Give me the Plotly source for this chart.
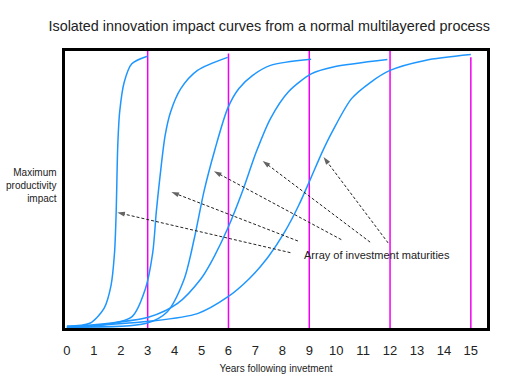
import plotly.graph_objects as go

# ---- data (years, % of maximum productivity impact) ----
curve1_x = [0, 0.85, 1.38, 1.64, 1.77, 1.83, 1.89, 1.96, 2.13, 2.41, 2.99]
curve1_y = [0.7, 1.7, 7.1, 15.4, 27.3, 41.9, 66.0, 78.0, 88.8, 95.4, 98.1]

curve2_x = [0, 1.0, 2.41, 2.92, 3.19, 3.32, 3.45, 3.65, 3.85, 4.23, 4.85, 5.97]
curve2_y = [0.4, 0.6, 4.0, 14.3, 27.4, 41.9, 54.0, 69.6, 78.0, 86.4, 93.0, 97.7]

curve3_x = [0, 2.92, 3.72, 4.36, 4.73, 5.10, 5.49, 5.97, 6.38, 6.90, 7.56, 9.07]
curve3_y = [0.3, 1.6, 5.8, 17.8, 32.3, 49.7, 64.2, 79.3, 86.4, 91.2, 94.8, 97.0]

curve4_x = [0, 3.05, 4.11, 4.98, 5.36, 5.97, 6.51, 7.03, 7.56, 8.22, 9.09, 9.89, 11.9]
curve4_y = [0.3, 4.0, 8.9, 17.8, 23.8, 35.9, 49.1, 63.5, 75.6, 85.2, 91.8, 94.2, 96.9]

curve5_x = [0, 3.05, 4.85, 5.97, 6.77, 7.43, 8.09, 8.61, 9.05, 9.48, 9.85, 10.57, 11.29, 12.0, 13.3, 15.0]
curve5_y = [0.25, 2.4, 5.2, 11.2, 17.8, 25.1, 34.7, 44.3, 53.9, 63.5, 70.8, 82.8, 88.8, 93.0, 96.6, 98.7]

maturity_years = [3, 6, 9, 12, 15]
maturity_tops = [100, 99.1, 100, 100, 97.7]

arrow_tail_x = [8.30, 8.58, 10.19, 11.26, 11.93]
arrow_tail_y = [27.2, 31.4, 31.9, 31.0, 30.7]
arrow_head_x = [1.87, 3.88, 5.46, 7.27, 9.53]
arrow_head_y = [41.7, 49.1, 56.6, 60.3, 61.7]

tick_years = list(range(0, 16))
tick_labels = [str(v) for v in tick_years]

label_pos = (8.73, 26.2)

title_text = "Isolated innovation impact curves from a normal multilayered process"
x_title = "Years following invetment"
y_title = "Maximum<br>productivity<br>impact"
array_text = "Array of investment maturities"

# ---- styles ----
FONT = "Liberation Sans, Arial, sans-serif"
BLUE = "#1E96FF"
MAGENTA = "#F000F0"

fig = go.Figure()

# maturity lines
for xv, top in zip(maturity_years, maturity_tops):
    fig.add_trace(go.Scatter(x=[xv, xv], y=[0, top], mode="lines",
                             line=dict(color=MAGENTA, width=1.5),
                             hoverinfo="skip", showlegend=False))

# impact curves
for cx, cy in [(curve1_x, curve1_y), (curve2_x, curve2_y), (curve3_x, curve3_y),
               (curve4_x, curve4_y), (curve5_x, curve5_y)]:
    fig.add_trace(go.Scatter(x=cx, y=cy, mode="lines",
                             line=dict(color=BLUE, width=1.5, shape="spline", smoothing=0.8),
                             showlegend=False))

# dashed arrows
for tx, ty, hx, hy in zip(arrow_tail_x, arrow_tail_y, arrow_head_x, arrow_head_y):
    fig.add_trace(go.Scatter(x=[tx, hx], y=[ty, hy], mode="lines+markers",
                             line=dict(color="#222222", width=1, dash="3px,2px"),
                             marker=dict(symbol="arrow", size=[0, 8], color="#222222",
                                         angleref="previous", line=dict(width=0)),
                             hoverinfo="skip", showlegend=False))

fig.add_annotation(x=label_pos[0], y=label_pos[1], text=array_text, showarrow=False,
                   xanchor="left", yanchor="middle",
                   font=dict(family=FONT, size=11, color="#222222"))

fig.add_annotation(xref="paper", yref="paper", x=0, y=0.515, xshift=-6,
                   text=y_title, showarrow=False, xanchor="right", yanchor="middle",
                   align="right", font=dict(family=FONT, size=10, color="#222222"))

fig.update_layout(
    width=530, height=387,
    margin=dict(l=65, r=43, t=51, b=59),
    paper_bgcolor="white", plot_bgcolor="white",
    title=dict(text=title_text, x=0.508, xanchor="center", y=0.933, yanchor="middle",
               font=dict(family=FONT, size=14.4, color="#222222")),
    xaxis=dict(range=[-0.07, 15.6], tickvals=tick_years, ticktext=tick_labels,
               automargin=False,
               showgrid=False, zeroline=False, showline=True, mirror=True,
               linecolor="black", linewidth=3,
               ticks="outside", ticklen=8, tickcolor="rgba(0,0,0,0)",
               tickfont=dict(family=FONT, size=13, color="#222222"),
               title=dict(text=x_title, standoff=9,
                          font=dict(family=FONT, size=10, color="#222222"))),
    yaxis=dict(range=[0, 100], automargin=False,
               showgrid=False, zeroline=False, showticklabels=False,
               showline=True, mirror=True, linecolor="black", linewidth=3, ticks=""),
)

fig.write_html("out.html", config={"displayModeBar": False},
               post_script="document.body.style.margin='0';")
